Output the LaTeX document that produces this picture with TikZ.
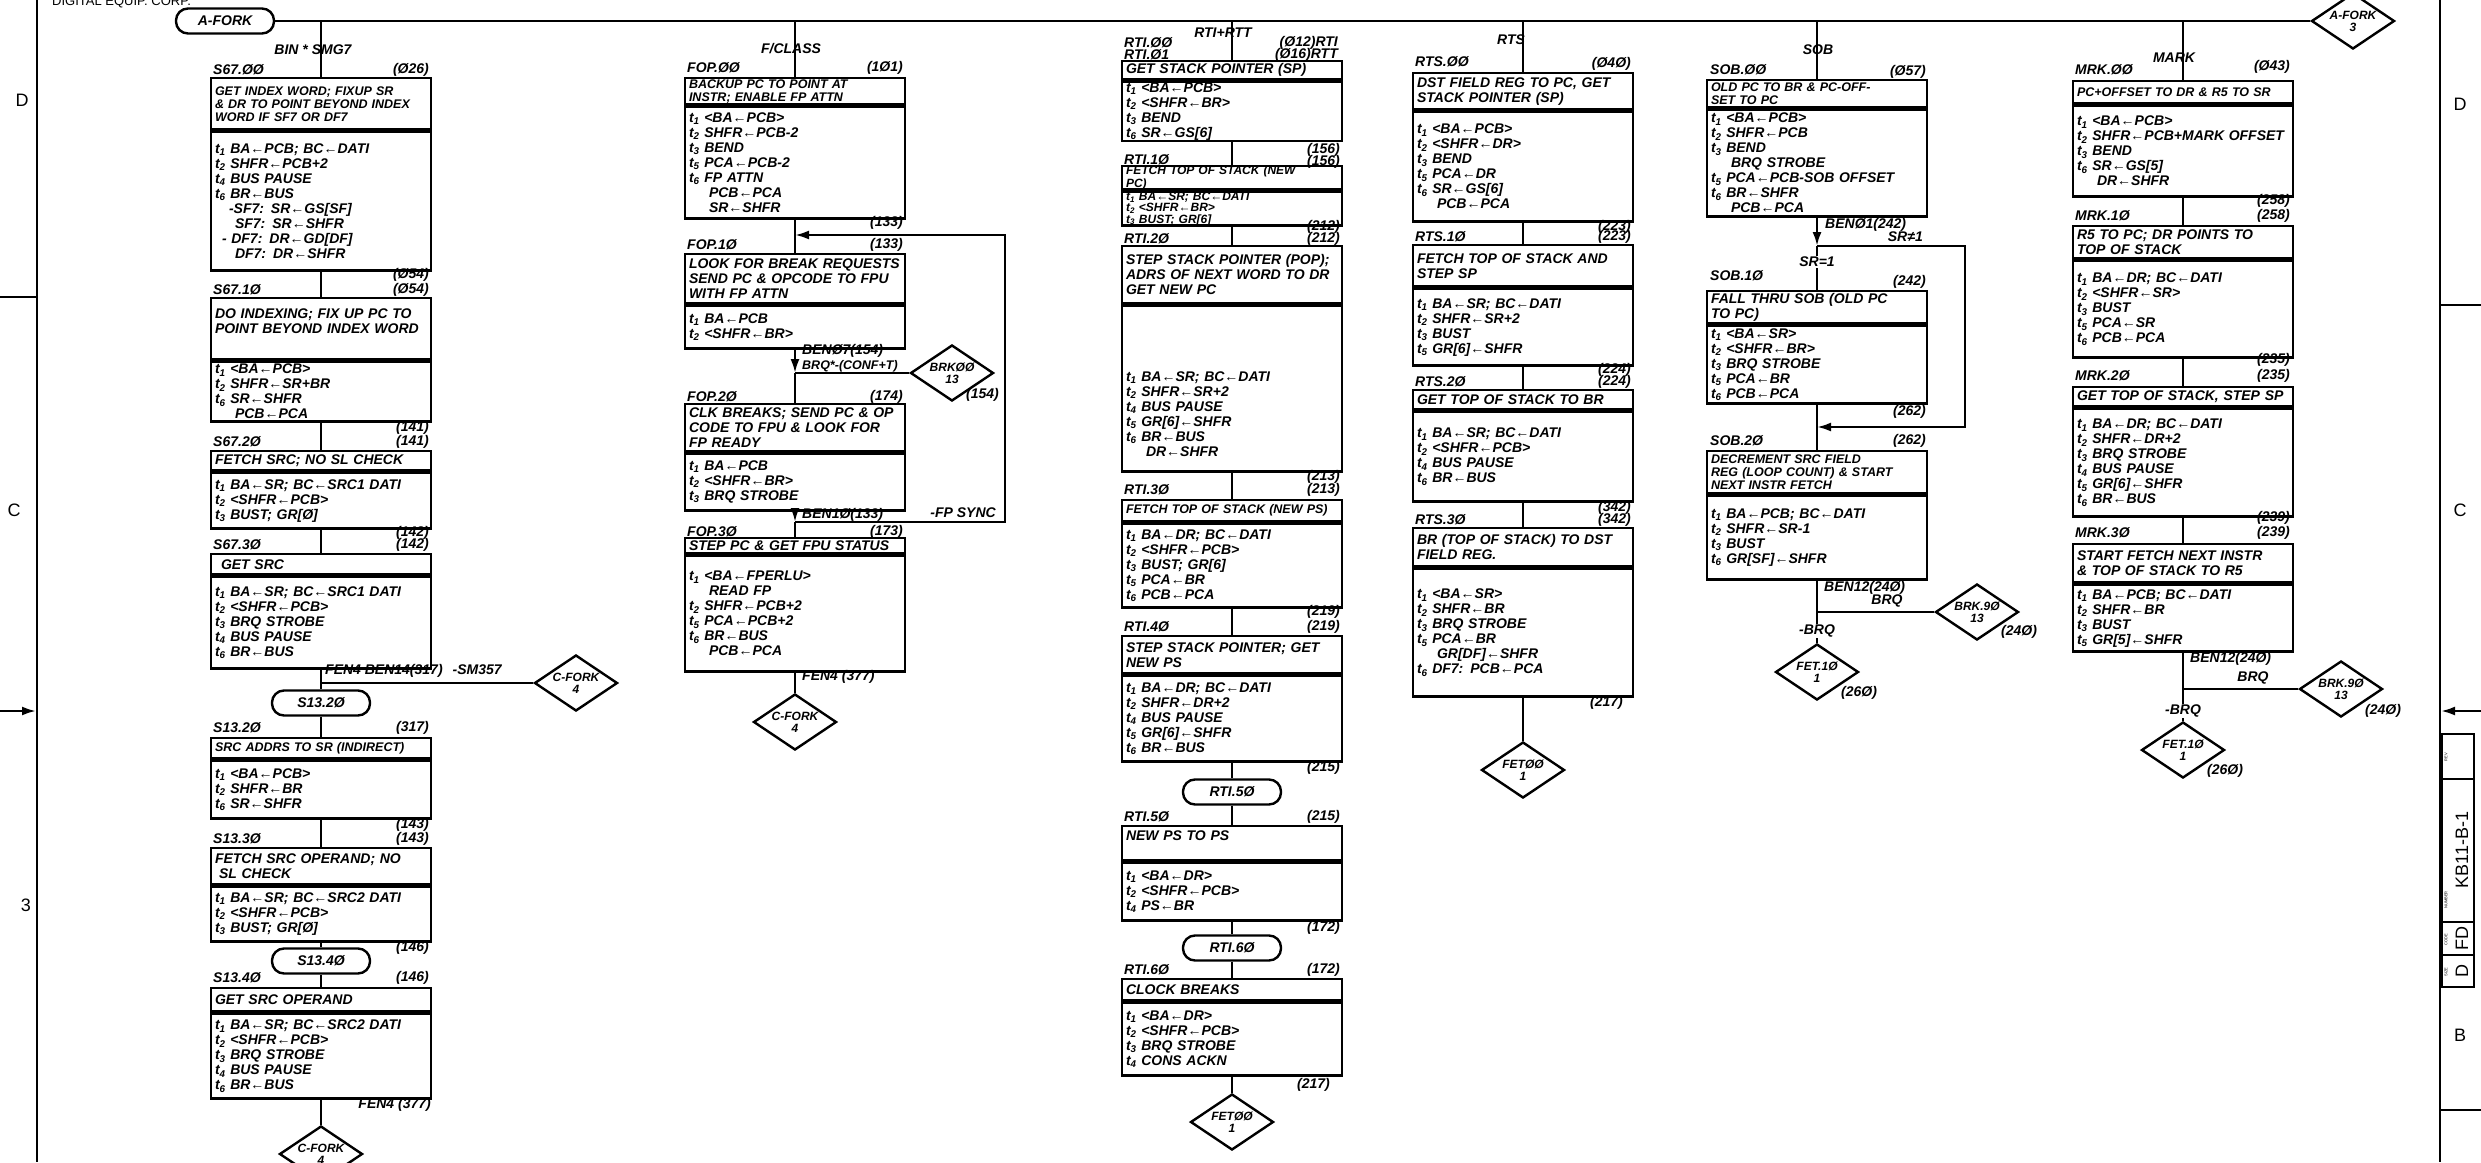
\documentclass[tikz,border=0pt]{standalone}
\usepackage{fontspec}
\setmainfont{Liberation Sans}
\usetikzlibrary{positioning,shapes.geometric,arrows.meta}

\newcommand{\tsb}[1]{t\textsubscript{#1}}
\newcommand{\indt}{\hspace*{20pt}}

\tikzset{
  steptitle/.style={draw, anchor=north, text width=212pt, inner xsep=4pt, inner ysep=1pt, align=left},
  stepbody/.style={steptitle},
  squeeze/.style={font=\bfseries\itshape\fontsize{12.5}{13}\selectfont},
  cramped/.style={font=\bfseries\itshape\fontsize{12}{10}\selectfont, inner ysep=0pt},
  termbox/.style={draw, rounded corners=12pt, minimum width=98pt, minimum height=25pt, inner sep=1pt},
  forkbox/.style={draw, diamond, minimum width=83pt, minimum height=56pt, inner sep=-4pt, align=center, font=\bfseries\itshape\fontsize{12}{12}\selectfont},
  tag/.style={inner sep=1pt},
  onwire/.style={fill=white, inner sep=1pt},
  zone/.style={font=\upshape\fontsize{18}{18}\selectfont},
  block/.style={rotate=90, inner sep=0pt, font=\upshape\fontsize{18}{18}\selectfont},
  blockhd/.style={rotate=90, inner sep=0pt, font=\upshape\fontsize{4}{4}\selectfont}
}

\begin{document}
\begin{tikzpicture}[x=1pt, y=-1pt, line width=2.4pt, >={Latex[length=14pt,width=9pt]}, font=\bfseries\itshape\fontsize{14}{15}\selectfont]
\useasboundingbox (0,0) rectangle (2481,1162);

% frame
\draw (37,0) -- (37,1162);
\draw (0,297) -- (37,297);
\draw[->] (0,711) -- (36,711);
\node[zone] (zdl) at (22,100) {D};
\node[zone] (zcl) at (14,510) {C};
\node[zone] (zbl) at (26,905) {3};
\node[tag, anchor=west, font=\upshape\fontsize{13}{13}\selectfont] (corp) at (50,2) {DIGITAL EQUIP. CORP.};
\draw (2440,0) -- (2440,1162);
\draw (2440,305) -- (2481,305);
\draw (2440,1110) -- (2481,1110);
\draw[->] (2481,711) -- (2441,711);
\node[zone] (zdr) at (2460,104) {D};
\node[zone] (zcr) at (2460,510) {C};
\node[zone] (zbr) at (2460,1035) {B};
\draw[line width=1.4pt] (2442,734) rectangle (2474,987);
\draw[line width=1.4pt] (2442,779) -- (2474,779) (2442,922) -- (2474,922) (2442,955) -- (2474,955);
\node[block] (dwgno) at (2462,850) {KB11-B-1};
\node[block] (dwgcode) at (2462,938) {FD};
\node[block] (dwgsize) at (2462,971) {D};
\node[blockhd] (hdrev) at (2446,757) {REV};
\node[blockhd] (hdnum) at (2446,900) {NUMBER};
\node[blockhd] (hdcode) at (2446,940) {CODE};
\node[blockhd] (hdsize) at (2446,972) {SIZE};

% fork bus
\node[termbox] (afork) at (225,21) {A-FORK};
\node[forkbox] (afork3) at (2353,21) {A-FORK\\3};
\draw (afork.east) -- (afork3.west);

% BIN * SMG7
\node[tag, anchor=west] (s670l) at (211,70) {S67.ØØ};
\node[tag, anchor=east] (s670r) at (431,70) {(Ø26)};
\node[steptitle, squeeze, minimum height=51pt] (s670) at (321,77) {GET INDEX WORD; FIXUP SR\\\& DR TO POINT BEYOND INDEX\\WORD IF SF7 OR DF7};
\node[stepbody, minimum height=139pt] (s670b) at (s670.south) {\tsb1 BA←PCB; BC←DATI\\\tsb2 SHFR←PCB+2\\\tsb4 BUS PAUSE\\\tsb6 BR←BUS\\\hspace*{14pt}-SF7: SR←GS[SF]\\\hspace*{20pt}SF7: SR←SHFR\\\hspace*{7pt}- DF7: DR←GD[DF]\\\hspace*{20pt}DF7: DR←SHFR};
\draw (s670.north |- afork.east) -- (s670.north);
\node[tag] (binhd) at (313,50) {BIN * SMG7};

\node[tag, anchor=east] (s671q) at (431,275) {(Ø54)};
\node[tag, anchor=east] (s671r) at (431,290) {(Ø54)};
\node[tag, anchor=west] (s671l) at (211,290) {S67.1Ø};
\node[steptitle, minimum height=61pt] (s671) at (321,297) {DO INDEXING; FIX UP PC TO\\POINT BEYOND INDEX WORD\\\mbox{}};
\node[stepbody, minimum height=60pt] (s671b) at (s671.south) {\tsb1 <BA←PCB>\\\tsb2 SHFR←SR+BR\\\tsb6 SR←SHFR\\\indt PCB←PCA};
\draw (s670b.south) -- (s671.north);

\node[tag, anchor=east] (s672q) at (431,428) {(141)};
\node[tag, anchor=east] (s672r) at (431,442) {(141)};
\node[tag, anchor=west] (s672l) at (211,442) {S67.2Ø};
\node[steptitle, minimum height=19pt] (s672) at (321,450) {FETCH SRC; NO SL CHECK};
\node[stepbody, minimum height=56pt] (s672b) at (s672.south) {\tsb1 BA←SR; BC←SRC1 DATI\\\tsb2 <SHFR←PCB>\\\tsb3 BUST; GR[Ø]};
\draw (s671b.south) -- (s672.north);

\node[tag, anchor=east] (s673q) at (431,533) {(142)};
\node[tag, anchor=east] (s673r) at (431,545) {(142)};
\node[tag, anchor=west] (s673l) at (211,545) {S67.3Ø};
\node[steptitle, minimum height=20pt] (s673) at (321,553) {\hspace*{6pt}GET SRC};
\node[stepbody, minimum height=92pt] (s673b) at (s673.south) {\tsb1 BA←SR; BC←SRC1 DATI\\\tsb2 <SHFR←PCB>\\\tsb3 BRQ STROBE\\\tsb4 BUS PAUSE\\\tsb6 BR←BUS};
\draw (s672b.south) -- (s673.north);

\node[forkbox] (cfork1) at (576,683) {C-FORK\\4};
\node[tag, anchor=south west] (s673e) at (323,680) {FEN4 BEN14(317)\hspace{10pt}-SM357};
\node[termbox] (s132o) at (321,703) {S13.2Ø};
\draw (s673b.south) -- (s132o.north);
\draw (s673b.south |- cfork1.west) -- (cfork1.west);

\node[tag, anchor=west] (s132l) at (211,728) {S13.2Ø};
\node[tag, anchor=east] (s132r) at (431,728) {(317)};
\node[steptitle, squeeze, minimum height=20pt] (s132) at (321,737) {SRC ADDRS TO SR (INDIRECT)};
\node[stepbody, minimum height=58pt] (s132b) at (s132.south) {\tsb1 <BA←PCB>\\\tsb2 SHFR←BR\\\tsb6 SR←SHFR};
\draw (s132o.south) -- (s132.north);

\node[tag, anchor=east] (s133q) at (431,825) {(143)};
\node[tag, anchor=east] (s133r) at (431,839) {(143)};
\node[tag, anchor=west] (s133l) at (211,839) {S13.3Ø};
\node[steptitle, minimum height=36pt] (s133) at (321,847) {FETCH SRC OPERAND; NO\\\hspace*{4pt}SL CHECK};
\node[stepbody, minimum height=55pt] (s133b) at (s133.south) {\tsb1 BA←SR; BC←SRC2 DATI\\\tsb2 <SHFR←PCB>\\\tsb3 BUST; GR[Ø]};
\draw (s132b.south) -- (s133.north);

\node[tag, anchor=east] (s134q) at (431,948) {(146)};
\node[termbox] (s134o) at (321,961) {S13.4Ø};
\draw (s133b.south) -- (s134o.north);
\node[tag, anchor=west] (s134l) at (211,978) {S13.4Ø};
\node[tag, anchor=east] (s134r) at (431,978) {(146)};
\node[steptitle, minimum height=23pt] (s134) at (321,987) {GET SRC OPERAND};
\node[stepbody, minimum height=85pt] (s134b) at (s134.south) {\tsb1 BA←SR; BC←SRC2 DATI\\\tsb2 <SHFR←PCB>\\\tsb3 BRQ STROBE\\\tsb4 BUS PAUSE\\\tsb6 BR←BUS};
\draw (s134o.south) -- (s134.north);
\node[tag, anchor=east] (s134e) at (433,1105) {FEN4 (377)};
\node[forkbox] (cfork2) at (321,1154) {C-FORK\\4};
\draw (s134b.south) -- (cfork2.north);

% F/CLASS
\node[tag, anchor=west] (fop0l) at (685,68) {FOP.ØØ};
\node[tag, anchor=east] (fop0r) at (905,68) {(1Ø1)};
\node[steptitle, squeeze, minimum height=26pt] (fop0) at (795,77) {BACKUP PC TO POINT AT\\INSTR; ENABLE FP ATTN};
\node[stepbody, minimum height=112pt] (fop0b) at (fop0.south) {\tsb1 <BA←PCB>\\\tsb2 SHFR←PCB-2\\\tsb3 BEND\\\tsb5 PCA←PCB-2\\\tsb6 FP ATTN\\\indt PCB←PCA\\\indt SR←SHFR};
\draw (fop0.north |- afork.east) -- (fop0.north);
\node[tag] (fclhd) at (791,49) {F/CLASS};

\coordinate (fop1j) at (795,235);
\node[tag, anchor=east] (fop1q) at (905,223) {(133)};
\node[tag, anchor=east] (fop1r) at (905,245) {(133)};
\node[tag, anchor=west] (fop1l) at (685,245) {FOP.1Ø};
\node[steptitle, minimum height=49pt] (fop1) at (795,253) {LOOK FOR BREAK REQUESTS\\SEND PC \& OPCODE TO FPU\\WITH FP ATTN};
\node[stepbody, minimum height=43pt] (fop1b) at (fop1.south) {\tsb1 BA←PCB\\\tsb2 <SHFR←BR>};
\draw (fop0b.south) -- (fop1.north);

\coordinate (fop2j) at (795,373);
\node[tag, anchor=west] (fop1e) at (800,351) {BENØ7(154)};
\node[tag, anchor=west, squeeze] (fop1f) at (800,366) {BRQ*-(CONF+T)};
\node[forkbox] (brk00) at (952,373) {BRKØØ\\13};
\node[tag, anchor=north west] (brk00r) at (964,386) {(154)};
\draw[->] (fop1b.south) -- (fop2j);
\draw (fop2j) -- (brk00.west);

\node[tag, anchor=west] (fop2l) at (685,397) {FOP.2Ø};
\node[tag, anchor=east] (fop2r) at (905,397) {(174)};
\node[steptitle, minimum height=47pt] (fop2) at (795,403) {CLK BREAKS; SEND PC \& OP\\CODE TO FPU \& LOOK FOR\\FP READY};
\node[stepbody, minimum height=57pt] (fop2b) at (fop2.south) {\tsb1 BA←PCB\\\tsb2 <SHFR←BR>\\\tsb3 BRQ STROBE};
\draw (fop2j) -- (fop2.north);

\coordinate (fop3j) at (795,522);
\coordinate (fsyncb) at (1005,522);
\coordinate (fsynct) at (1005,235);
\node[tag, anchor=west] (fop2e) at (800,515) {BEN1Ø(133)};
\node[tag, anchor=south east] (fsync) at (998,520) {-FP SYNC};
\draw[->] (fop2b.south) -- (fop3j);
\draw[->] (fop3j) -- (fsyncb) -- (fsynct) -- (fop1j);

\node[tag, anchor=west] (fop3l) at (685,532) {FOP.3Ø};
\node[tag, anchor=east] (fop3r) at (905,532) {(173)};
\node[steptitle, minimum height=15pt] (fop3) at (795,537) {STEP PC \& GET FPU STATUS};
\node[stepbody, minimum height=116pt] (fop3b) at (fop3.south) {\tsb1 <BA←FPERLU>\\\indt READ FP\\\tsb2 SHFR←PCB+2\\\tsb5 PCA←PCB+2\\\tsb6 BR←BUS\\\indt PCB←PCA};
\draw (fop3j) -- (fop3.north);
\node[tag, anchor=west] (fop3e) at (800,677) {FEN4 (377)};
\node[forkbox] (cfork3) at (795,722) {C-FORK\\4};
\draw (fop3b.south) -- (cfork3.north);

% RTI + RTT
\node[tag, anchor=west] (rti0l) at (1122,43) {RTI.ØØ};
\node[tag, anchor=west] (rti0m) at (1122,55) {RTI.Ø1};
\node[tag, anchor=east] (rti0r) at (1340,43) {(Ø12)RTI};
\node[tag, anchor=east] (rti0s) at (1340,55) {(Ø16)RTT};
\node[steptitle, minimum height=18pt] (rti0) at (1232,60) {GET STACK POINTER (SP)};
\node[stepbody, minimum height=59pt] (rti0b) at (rti0.south) {\tsb1 <BA←PCB>\\\tsb2 <SHFR←BR>\\\tsb3 BEND\\\tsb6 SR←GS[6]};
\draw (rti0.north |- afork.east) -- (rti0.north);
\node[tag] (rtihd) at (1223,33) {RTI+RTT};

\node[tag, anchor=east] (rti1q) at (1342,150) {(156)};
\node[tag, anchor=east] (rti1r) at (1342,162) {(156)};
\node[tag, anchor=west] (rti1l) at (1122,160) {RTI.1Ø};
\node[steptitle, cramped, minimum height=22pt] (rti1) at (1232,165) {FETCH TOP OF STACK (NEW\\PC)};
\node[stepbody, cramped, minimum height=30pt] (rti1b) at (rti1.south) {\tsb1 BA←SR; BC←DATI\\\tsb2 <SHFR←BR>\\\tsb3 BUST; GR[6]};
\draw (rti0b.south) -- (rti1.north);

\node[tag, anchor=east] (rti2q) at (1342,227) {(212)};
\node[tag, anchor=east] (rti2r) at (1342,239) {(212)};
\node[tag, anchor=west] (rti2l) at (1122,239) {RTI.2Ø};
\node[steptitle, minimum height=57pt] (rti2) at (1232,245) {STEP STACK POINTER (POP);\\ADRS OF NEXT WORD TO DR\\GET NEW PC};
\node[stepbody, minimum height=166pt] (rti2b) at (rti2.south) {\mbox{}\\\mbox{}\\\mbox{}\\\mbox{}\\\tsb1 BA←SR; BC←DATI\\\tsb2 SHFR←SR+2\\\tsb4 BUS PAUSE\\\tsb5 GR[6]←SHFR\\\tsb6 BR←BUS\\\indt DR←SHFR};
\draw (rti1b.south) -- (rti2.north);

\node[tag, anchor=east] (rti3q) at (1342,477) {(213)};
\node[tag, anchor=east] (rti3r) at (1342,490) {(213)};
\node[tag, anchor=west] (rti3l) at (1122,490) {RTI.3Ø};
\node[steptitle, squeeze, minimum height=21pt] (rti3) at (1232,499) {FETCH TOP OF STACK (NEW PS)};
\node[stepbody, minimum height=84pt] (rti3b) at (rti3.south) {\tsb1 BA←DR; BC←DATI\\\tsb2 <SHFR←PCB>\\\tsb3 BUST; GR[6]\\\tsb5 PCA←BR\\\tsb6 PCB←PCA};
\draw (rti2b.south) -- (rti3.north);

\node[tag, anchor=east] (rti4q) at (1342,612) {(219)};
\node[tag, anchor=east] (rti4r) at (1342,627) {(219)};
\node[tag, anchor=west] (rti4l) at (1122,627) {RTI.4Ø};
\node[steptitle, minimum height=37pt] (rti4) at (1232,635) {STEP STACK POINTER; GET\\NEW PS};
\node[stepbody, minimum height=86pt] (rti4b) at (rti4.south) {\tsb1 BA←DR; BC←DATI\\\tsb2 SHFR←DR+2\\\tsb4 BUS PAUSE\\\tsb5 GR[6]←SHFR\\\tsb6 BR←BUS};
\draw (rti3b.south) -- (rti4.north);

\node[tag, anchor=east] (rti5q) at (1342,768) {(215)};
\node[termbox] (rti5o) at (1232,792) {RTI.5Ø};
\draw (rti4b.south) -- (rti5o.north);
\node[tag, anchor=west] (rti5l) at (1122,817) {RTI.5Ø};
\node[tag, anchor=east] (rti5r) at (1342,817) {(215)};
\node[steptitle, minimum height=34pt] (rti5) at (1232,825) {NEW PS TO PS\\\mbox{}};
\node[stepbody, minimum height=58pt] (rti5b) at (rti5.south) {\tsb1 <BA←DR>\\\tsb2 <SHFR←PCB>\\\tsb4 PS←BR};
\draw (rti5o.south) -- (rti5.north);

\node[tag, anchor=east] (rti6q) at (1342,928) {(172)};
\node[termbox] (rti6o) at (1232,948) {RTI.6Ø};
\draw (rti5b.south) -- (rti6o.north);
\node[tag, anchor=west] (rti6l) at (1122,970) {RTI.6Ø};
\node[tag, anchor=east] (rti6r) at (1342,970) {(172)};
\node[steptitle, minimum height=21pt] (rti6) at (1232,978) {CLOCK BREAKS};
\node[stepbody, minimum height=73pt] (rti6b) at (rti6.south) {\tsb1 <BA←DR>\\\tsb2 <SHFR←PCB>\\\tsb3 BRQ STROBE\\\tsb4 CONS ACKN};
\draw (rti6o.south) -- (rti6.north);
\node[tag, anchor=east] (rti6e) at (1332,1085) {(217)};
\node[forkbox] (fet00a) at (1232,1122) {FETØØ\\1};
\draw (rti6b.south) -- (fet00a.north);

% RTS
\node[tag, anchor=west] (rts0l) at (1413,62) {RTS.ØØ};
\node[tag, anchor=east] (rts0r) at (1633,64) {(Ø4Ø)};
\node[steptitle, minimum height=36pt] (rts0) at (1523,72) {DST FIELD REG TO PC, GET\\STACK POINTER (SP)};
\node[stepbody, minimum height=110pt] (rts0b) at (rts0.south) {\tsb1 <BA←PCB>\\\tsb2 <SHFR←DR>\\\tsb3 BEND\\\tsb5 PCA←DR\\\tsb6 SR←GS[6]\\\indt PCB←PCA};
\draw (rts0.north |- afork.east) -- (rts0.north);
\node[tag] (rtshd) at (1511,40) {RTS};

\node[tag, anchor=east] (rts1q) at (1633,227) {(223)};
\node[tag, anchor=east] (rts1r) at (1633,237) {(223)};
\node[tag, anchor=west] (rts1l) at (1413,237) {RTS.1Ø};
\node[steptitle, minimum height=41pt] (rts1) at (1523,244) {FETCH TOP OF STACK AND\\STEP SP};
\node[stepbody, minimum height=77pt] (rts1b) at (rts1.south) {\tsb1 BA←SR; BC←DATI\\\tsb2 SHFR←SR+2\\\tsb3 BUST\\\tsb5 GR[6]←SHFR};
\draw (rts0b.south) -- (rts1.north);

\node[tag, anchor=east] (rts2q) at (1633,370) {(224)};
\node[tag, anchor=east] (rts2r) at (1633,382) {(224)};
\node[tag, anchor=west] (rts2l) at (1413,382) {RTS.2Ø};
\node[steptitle, minimum height=19pt] (rts2) at (1523,389) {GET TOP OF STACK TO BR};
\node[stepbody, minimum height=90pt] (rts2b) at (rts2.south) {\tsb1 BA←SR; BC←DATI\\\tsb2 <SHFR←PCB>\\\tsb4 BUS PAUSE\\\tsb6 BR←BUS};
\draw (rts1b.south) -- (rts2.north);

\node[tag, anchor=east] (rts3q) at (1633,508) {(342)};
\node[tag, anchor=east] (rts3r) at (1633,520) {(342)};
\node[tag, anchor=west] (rts3l) at (1413,520) {RTS.3Ø};
\node[steptitle, minimum height=38pt] (rts3) at (1523,527) {BR (TOP OF STACK) TO DST\\FIELD REG.};
\node[stepbody, minimum height=128pt] (rts3b) at (rts3.south) {\tsb1 <BA←SR>\\\tsb2 SHFR←BR\\\tsb3 BRQ STROBE\\\tsb5 PCA←BR\\\indt GR[DF]←SHFR\\\tsb6 DF7: PCB←PCA};
\draw (rts2b.south) -- (rts3.north);
\node[tag, anchor=east] (rts3e) at (1625,703) {(217)};
\node[forkbox] (fet00b) at (1523,770) {FETØØ\\1};
\draw (rts3b.south) -- (fet00b.north);

% SOB
\node[tag, anchor=west] (sob0l) at (1708,70) {SOB.ØØ};
\node[tag, anchor=east] (sob0r) at (1928,72) {(Ø57)};
\node[steptitle, squeeze, minimum height=27pt] (sob0) at (1817,79) {OLD PC TO BR \& PC-OFF-\\SET TO PC};
\node[stepbody, minimum height=107pt] (sob0b) at (sob0.south) {\tsb1 <BA←PCB>\\\tsb2 SHFR←PCB\\\tsb3 BEND\\\indt BRQ STROBE\\\tsb5 PCA←PCB-SOB~OFFSET\\\tsb6 BR←SHFR\\\indt PCB←PCA};
\draw (sob0.north |- afork.east) -- (sob0.north);
\node[tag] (sobhd) at (1818,50) {SOB};

\coordinate (sobj) at (1817,246);
\coordinate (sobk) at (1817,427);
\coordinate (sobla) at (1965,246);
\coordinate (soblb) at (1965,427);
\node[tag, anchor=west] (sob0e) at (1823,225) {BENØ1(242)};
\node[tag, anchor=east] (sob0f) at (1925,237) {SR≠1};
\draw[->] (sob0b.south) -- (sobj);

\node[tag, anchor=west] (sob1l) at (1708,276) {SOB.1Ø};
\node[tag, anchor=east] (sob1r) at (1928,282) {(242)};
\node[steptitle, minimum height=32pt] (sob1) at (1817,290) {FALL THRU SOB (OLD PC\\TO PC)};
\node[stepbody, minimum height=78pt] (sob1b) at (sob1.south) {\tsb1 <BA←SR>\\\tsb2 <SHFR←BR>\\\tsb3 BRQ STROBE\\\tsb5 PCA←BR\\\tsb6 PCB←PCA};
\draw (sobj) -- (sob1.north);
\node[onwire] (sob1w) at (1817,262) {SR=1};
\draw[->] (sobj) -- (sobla) -- (soblb) -- (sobk);

\node[tag, anchor=east] (sob2q) at (1928,412) {(262)};
\node[tag, anchor=east] (sob2r) at (1928,441) {(262)};
\node[tag, anchor=west] (sob2l) at (1708,441) {SOB.2Ø};
\node[steptitle, squeeze, minimum height=42pt] (sob2) at (1817,450) {DECREMENT SRC FIELD\\REG (LOOP COUNT) \& START\\NEXT INSTR FETCH};
\node[stepbody, minimum height=84pt] (sob2b) at (sob2.south) {\tsb1 BA←PCB; BC←DATI\\\tsb2 SHFR←SR-1\\\tsb3 BUST\\\tsb6 GR[SF]←SHFR};
\draw (sob1b.south) -- (sob2.north);

\coordinate (sobm) at (1817,612);
\node[tag, anchor=west] (sob2e) at (1822,588) {BEN12(24Ø)};
\node[tag, anchor=south] (sob2f) at (1887,609) {BRQ};
\node[forkbox] (brk90a) at (1977,612) {BRK.9Ø\\13};
\node[tag] (brk90ar) at (2019,632) {(24Ø)};
\node[forkbox] (fet10a) at (1817,672) {FET.1Ø\\1};
\node[tag] (fet10ar) at (1859,693) {(26Ø)};
\draw (sob2b.south) -- (fet10a.north);
\draw (sobm) -- (brk90a.west);
\node[onwire] (sob2w) at (1817,631) {-BRQ};

% MARK
\node[tag, anchor=west] (mrk0l) at (2073,70) {MRK.ØØ};
\node[tag, anchor=east] (mrk0r) at (2292,67) {(Ø43)};
\node[steptitle, squeeze, minimum height=22pt] (mrk0) at (2183,80) {PC+OFFSET TO DR \& R5 TO SR};
\node[stepbody, minimum height=91pt] (mrk0b) at (mrk0.south) {\tsb1 <BA←PCB>\\\tsb2 SHFR←PCB+MARK~OFFSET\\\tsb3 BEND\\\tsb6 SR←GS[5]\\\indt DR←SHFR};
\draw (mrk0.north |- afork.east) -- (mrk0.north);
\node[tag] (mrkhd) at (2174,58) {MARK};

\node[tag, anchor=east] (mrk1q) at (2292,201) {(258)};
\node[tag, anchor=east] (mrk1r) at (2292,216) {(258)};
\node[tag, anchor=west] (mrk1l) at (2073,216) {MRK.1Ø};
\node[steptitle, minimum height=32pt] (mrk1) at (2183,225) {R5 TO PC; DR POINTS TO\\TOP OF STACK};
\node[stepbody, minimum height=97pt] (mrk1b) at (mrk1.south) {\tsb1 BA←DR; BC←DATI\\\tsb2 <SHFR←SR>\\\tsb3 BUST\\\tsb5 PCA←SR\\\tsb6 PCB←PCA};
\draw (mrk0b.south) -- (mrk1.north);

\node[tag, anchor=east] (mrk2q) at (2292,360) {(235)};
\node[tag, anchor=east] (mrk2r) at (2292,376) {(235)};
\node[tag, anchor=west] (mrk2l) at (2073,376) {MRK.2Ø};
\node[steptitle, minimum height=19pt] (mrk2) at (2183,386) {GET TOP OF STACK, STEP SP};
\node[stepbody, minimum height=108pt] (mrk2b) at (mrk2.south) {\tsb1 BA←DR; BC←DATI\\\tsb2 SHFR←DR+2\\\tsb3 BRQ STROBE\\\tsb4 BUS PAUSE\\\tsb5 GR[6]←SHFR\\\tsb6 BR←BUS};
\draw (mrk1b.south) -- (mrk2.north);

\node[tag, anchor=east] (mrk3q) at (2292,518) {(239)};
\node[tag, anchor=east] (mrk3r) at (2292,533) {(239)};
\node[tag, anchor=west] (mrk3l) at (2073,533) {MRK.3Ø};
\node[steptitle, minimum height=38pt] (mrk3) at (2183,543) {START FETCH NEXT INSTR\\\& TOP OF STACK TO R5};
\node[stepbody, minimum height=67pt] (mrk3b) at (mrk3.south) {\tsb1 BA←PCB; BC←DATI\\\tsb2 SHFR←BR\\\tsb3 BUST\\\tsb5 GR[5]←SHFR};
\draw (mrk2b.south) -- (mrk3.north);

\coordinate (mrkm) at (2183,689);
\node[tag, anchor=west] (mrk3e) at (2188,659) {BEN12(24Ø)};
\node[tag, anchor=south] (mrk3f) at (2253,686) {BRQ};
\node[forkbox] (brk90b) at (2341,689) {BRK.9Ø\\13};
\node[tag] (brk90br) at (2383,711) {(24Ø)};
\node[forkbox] (fet10b) at (2183,750) {FET.1Ø\\1};
\node[tag] (fet10br) at (2225,771) {(26Ø)};
\draw (mrk3b.south) -- (fet10b.north);
\draw (mrkm) -- (brk90b.west);
\node[onwire] (mrk3w) at (2183,711) {-BRQ};

\end{tikzpicture}
\end{document}
